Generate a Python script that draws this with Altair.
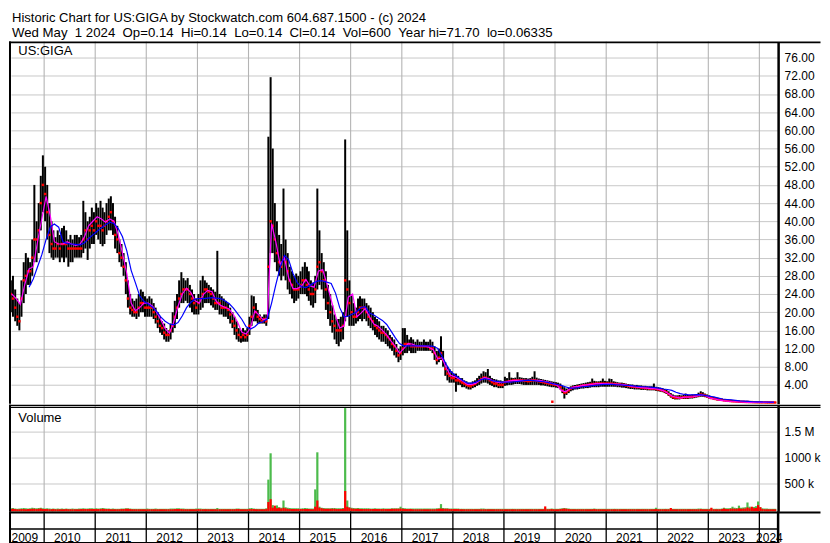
import altair as alt
import pandas as pd

FONT = "Liberation Sans"
NB = "\u00a0"
TITLE_1 = "Historic Chart for US:GIGA by Stockwatch.com 604.687.1500 - (c) 2024"
TITLE_2 = (f"Wed May {NB}1 2024 {NB}Op=0.14 {NB}Hi=0.14 {NB}Lo=0.14 {NB}Cl=0.14 "
           f"{NB}Vol=600 {NB}Year hi=71.70 {NB}lo=0.06335")
SYMBOL = "US:GIGA"
VOL_LABEL = "Volume"

# ---------------- price data: half-monthly high / low / close (May 2009 .. Apr 2024)
HIGH = [
    27, 28, 25, 23, 22, 27, 31, 33, 32, 31, 36, 48, 40, 44, 50, 54.5, 52, 48, 44, 40, 38, 36.5, 38, 37,
    38.5, 39, 38, 36, 37, 36, 37, 37, 36.5, 37, 44.5, 42, 40, 41, 43, 42, 44, 43, 44.5, 43, 42, 44, 45, 45.5,
    44, 41, 39, 36, 35, 33, 31, 27, 24, 23, 22.5, 23, 24, 25, 24.5, 23.5, 23, 23.5, 23, 22, 21, 20, 19, 18,
    17.5, 16.5, 16, 17.5, 20, 22.5, 24, 27, 28.8, 27.5, 27, 27.5, 26, 25, 24, 23, 24, 27, 28, 27, 26.5, 26, 25.5, 25,
    24.5, 33.5, 24, 23.5, 23, 22.5, 22, 21, 20, 19, 18, 16.5, 16, 16.5, 16, 16.5, 19, 23.7, 23.5, 22, 20.5, 19.5, 19, 19.5,
    19.5, 58.6, 71.7, 56, 44, 40, 37, 35, 47.2, 36, 33, 30, 29, 28, 28.5, 28, 29, 30, 31, 30, 29, 27, 26.5, 28,
    47.2, 38, 33, 31, 29, 26, 24, 21.5, 19.5, 18.5, 18.5, 19, 20, 58, 38, 27, 24, 22, 21, 23, 23.5, 23, 23, 22,
    21.5, 21, 20, 19, 18.5, 18, 17, 17, 16.5, 16, 15, 14.5, 14, 13, 12, 12.5, 16.5, 16.5, 15, 14, 14.5, 14, 13.5, 14,
    13.5, 13.5, 14, 13.5, 13.5, 14, 13.5, 12.5, 11.5, 12, 14.7, 11.5, 9, 8, 7.5, 7, 6.5, 6.5, 6, 5.5, 5.5, 5, 4.8, 4.5,
    4.5, 4.8, 5, 5.5, 6, 6.5, 7, 6.8, 7.5, 6, 5.5, 5.3, 5.2, 5, 5, 4.8, 5.8, 5.5, 6.8, 5.6, 5.5, 5.6, 6.8, 5.7,
    5.6, 5.5, 5.5, 5.4, 5.5, 5.8, 7, 5.6, 5.4, 5.3, 5.2, 5.1, 5, 4.9, 4.8, 4.7, 4.6, 4.5, 4.3, 3.8, 3.5, 3.2, 3.4, 3.7,
    3.9, 4, 4.1, 4.2, 4.3, 4.4, 4.5, 4.6, 4.7, 5.4, 4.9, 4.8, 4.8, 4.9, 5.4, 4.9, 4.8, 5.4, 5.3, 4.8, 4.7, 4.6, 4.5, 4.5,
    4.4, 4.3, 4.2, 4.1, 4.1, 4, 4, 3.9, 3.9, 3.8, 3.8, 3.7, 3.7, 3.7, 4.3, 3.6, 3.5, 3.4, 3.3, 3.1, 2.9, 2.6, 2.2, 1.9,
    1.7, 1.7, 1.8, 1.7, 1.8, 2.1, 1.8, 1.8, 1.9, 1.9, 2, 2.3, 2.6, 2.4, 2.1, 1.9, 1.7, 1.5, 1.4, 1.3, 1.2, 1.1, 1, 0.9,
    0.85, 0.8, 0.75, 0.7, 0.65, 0.6, 0.55, 0.5, 0.5, 0.45, 0.5, 0.42, 0.4, 0.38, 0.36, 0.35, 0.33, 0.32, 0.3, 0.3, 0.28, 0.27, 0.26, 0.25,
]
LOW = [
    20, 19, 18, 17, 16, 19, 22, 24, 26, 26, 28, 31, 31, 33, 38, 42, 40, 36, 33, 32, 31.5, 32, 32, 31,
    32, 31, 32, 30, 31, 31, 32, 32, 32, 32, 33, 34, 31.5, 34, 35, 35, 37, 36, 35, 34.5, 35, 37, 38, 38,
    37, 34, 33, 31, 30, 28, 24, 21, 19.5, 19, 19, 18.5, 19, 20, 20, 19, 19, 19, 19, 18.5, 17.5, 16.5, 15.5, 15,
    14, 13.5, 13.5, 14, 15.5, 16.5, 18.5, 21, 22, 22, 22.5, 22, 21, 20, 19.5, 19.5, 19.5, 20.5, 21, 22, 22, 22, 21.5, 21,
    20.5, 20.5, 19.5, 19.5, 19, 19, 18.5, 17.5, 16.5, 15, 14, 13.5, 13.3, 13.5, 13.5, 13.5, 15, 17, 18, 18, 17.5, 17.5, 17.5, 17.5,
    17, 18.5, 33, 33, 31, 29, 28, 27, 28, 27, 25, 24, 23, 22, 22.5, 23, 24, 24, 24, 23.5, 22.5, 21.5, 21, 22,
    25, 26, 25, 23, 20.5, 18.5, 17, 15.5, 14, 13, 12.5, 13.5, 14, 18, 19, 17, 17, 17, 17.5, 18, 18.5, 18, 18.5, 18,
    17, 16.5, 16, 15, 14.5, 14, 13.5, 13.5, 13, 12.5, 12, 11.5, 10.5, 10, 9, 9.5, 10.5, 11, 11, 11.5, 11, 11, 11, 11.5,
    11.5, 11.5, 11.5, 11.5, 11.5, 11.5, 11, 9.5, 8.5, 9, 9.5, 8, 6, 5, 4.5, 4.5, 4.5, 2.5, 4, 4, 3.5, 3.5, 3.2, 3,
    3, 3.3, 3.5, 3.8, 4, 4.3, 4.5, 4.5, 4.3, 4, 3.8, 3.5, 3.5, 3.3, 3.3, 3.3, 3.8, 3.9, 4, 4, 4.1, 4.2, 4.2, 4.2,
    4.1, 4, 4, 4, 4, 4, 4, 4, 4, 3.9, 3.9, 3.8, 3.7, 3.6, 3.5, 3.5, 3.4, 3.3, 3, 2.2, 1, 1.8, 2.2, 2.6,
    2.8, 3, 3, 3.1, 3.2, 3.2, 3.3, 3.3, 3.4, 3.5, 3.5, 3.5, 3.5, 3.6, 3.6, 3.6, 3.6, 3.6, 3.6, 3.6, 3.6, 3.5, 3.5, 3.4,
    3.4, 3.3, 3.2, 3.1, 3.1, 3, 3, 3, 2.9, 2.9, 2.9, 2.8, 2.8, 2.8, 2.8, 2.7, 2.6, 2.5, 2.4, 2.2, 2, 1.6, 1.2, 0.9,
    0.8, 0.8, 0.8, 0.9, 0.9, 0.9, 0.9, 1, 1, 1.1, 1.2, 1.3, 1.4, 1.4, 1.3, 1.2, 1, 0.9, 0.8, 0.7, 0.6, 0.55, 0.5, 0.45,
    0.4, 0.35, 0.3, 0.3, 0.25, 0.22, 0.2, 0.2, 0.18, 0.17, 0.16, 0.15, 0.14, 0.13, 0.12, 0.11, 0.1, 0.09, 0.08, 0.08, 0.07, 0.07, 0.065, 0.065,
]
CLOSE = [
    24, 23, 21, 19, 18, 23, 27, 28, 29, 29, 32, 36, 36, 38, 44, 48, 46, 42, 37, 35, 34, 34, 35, 34,
    35, 35, 35, 34, 34, 34, 34, 34, 34, 34, 36, 38, 36, 38, 39, 38, 40, 39, 39, 38, 39, 40, 41, 42,
    40, 37, 36, 33, 32, 30, 27, 23, 21, 20.5, 20, 20, 21, 22, 22, 21, 21, 21, 21, 20, 19, 18, 17, 16.5,
    15.5, 15, 15, 16, 17, 19, 21, 23, 24, 25, 25, 25, 24, 23, 22, 21, 22, 23, 24, 25, 25, 24.5, 24, 23,
    22, 22, 22, 21, 21, 21, 20.5, 19.5, 18, 17, 16, 15, 14.5, 15, 14.5, 15, 17, 19, 21, 20, 19, 18.5, 18, 18.5,
    18, 30, 40, 39, 36, 33, 31, 30, 32, 31, 29, 27, 26, 25, 25, 25, 26, 27, 27, 26, 25, 24, 24, 25,
    30, 31, 29, 27, 25, 22, 20, 18, 17, 16, 16, 16, 17, 27, 25, 22, 20, 19, 19, 20, 21, 21, 21, 20,
    19, 18.5, 18, 17, 16.5, 16, 15.5, 15.5, 15, 14.5, 14, 13, 12.5, 11.5, 10.5, 11, 12, 13, 13, 13, 12.5, 12.5, 12.5, 12.5,
    12.5, 12.5, 12.5, 12.5, 12.5, 12, 12, 11, 9.5, 10, 11, 9.5, 7.5, 6.5, 6, 5.5, 5.5, 5, 5, 4.8, 4.5, 4.3, 4, 3.8,
    3.7, 4, 4.2, 4.6, 5, 5.3, 5.6, 5.6, 5.3, 5, 4.6, 4.3, 4.3, 4, 4, 4, 4.6, 4.7, 4.8, 4.9, 5, 5, 5, 5,
    5, 4.9, 4.9, 4.8, 4.9, 5, 5, 4.9, 4.8, 4.7, 4.6, 4.5, 4.4, 4.3, 4.2, 4.1, 4, 3.9, 3.5, 2.8, 2.3, 2.4, 2.8, 3.2,
    3.4, 3.5, 3.6, 3.7, 3.8, 3.9, 3.9, 4, 4.1, 4.2, 4.2, 4.3, 4.3, 4.3, 4.3, 4.3, 4.3, 4.3, 4.3, 4.2, 4.2, 4.1, 4.1, 4,
    4, 3.9, 3.8, 3.7, 3.6, 3.6, 3.5, 3.5, 3.4, 3.4, 3.3, 3.3, 3.2, 3.2, 3.2, 3.1, 3, 2.9, 2.8, 2.6, 2.4, 2, 1.6, 1.3,
    1.2, 1.2, 1.2, 1.2, 1.3, 1.3, 1.3, 1.4, 1.4, 1.5, 1.6, 1.7, 1.9, 1.8, 1.7, 1.5, 1.3, 1.1, 1, 0.9, 0.8, 0.75, 0.7, 0.6,
    0.55, 0.5, 0.45, 0.4, 0.38, 0.35, 0.32, 0.3, 0.28, 0.26, 0.25, 0.23, 0.22, 0.2, 0.19, 0.18, 0.17, 0.16, 0.16, 0.15, 0.15, 0.14, 0.14, 0.14,
]
OUTLIER_DATES = ["2019-12-13"]
OUTLIER_CLOSE = [0.3]

# ---------------- moving averages, monthly (May 2009 .. Apr 2024)
MA_SHORT = [
    24, 23, 21.7, 26, 29.5, 30, 35.5, 40.5, 45.5, 41, 35.5, 35, 35, 35.5, 35, 34.7, 35, 36.5, 39, 40,
    41, 40.5, 39.8, 40.5, 40, 37, 33, 28.5, 22, 20.3, 21, 22, 22, 21.3, 20, 18.3, 16.4, 15.4, 17.8, 21.3,
    24, 25.3, 24.3, 22.5, 22, 24, 24.8, 24.5, 22.4, 21.5, 21.1, 20.7, 19.5, 17.8, 15.6, 15.2, 16.5, 20.3, 19.4, 18.3,
    18.6, 39.5, 35.5, 30.5, 32, 27.5, 25.2, 25.2, 25.7, 27.2, 25.8, 25.5, 29, 29.4, 26.3, 22.7, 19.2, 16.5, 17, 23.3,
    24, 19, 19.8, 20.8, 19, 17.4, 16.9, 16, 15, 13.7, 12.5, 11, 12, 13.1, 13, 12.6, 12.6, 12.5, 12.3, 11.7,
    9.7, 10, 7.7, 6.1, 5.8, 5.3, 4.8, 4.1, 4.1, 4.4, 5.1, 5.6, 5.4, 4.9, 4.6, 4.5, 4.7, 4.9, 5, 5,
    5, 5, 5, 5, 5, 4.8, 4.6, 4.3, 4, 2.8, 2.5, 3.1, 3.6, 3.7, 3.9, 4, 4.1, 4.3, 4.3, 4.3,
    4.3, 4.2, 4.2, 4.1, 4, 3.8, 3.6, 3.5, 3.4, 3.3, 3.2, 3.2, 3, 2.7, 2.2, 1.6, 1.3, 1.1, 1.3, 1.3,
    1.4, 1.6, 1.8, 1.6, 1.1, 0.9, 0.7, 0.55, 0.45, 0.35, 0.3, 0.25, 0.2, 0.17, 0.16, 0.15, 0.15, 0.14, 0.14, 0.14,
]
MA_LONG = [
    None, None, None, None, 25.5, 27.3, 30, 32.6, 36, 38.8, 39.4, 38.7, 35.5, 35.1, 35, 34.9, 34.8, 35.2, 36.2, 37,
    37.8, 38.6, 39.2, 39.8, 39.5, 38.4, 36.6, 33.5, 29.2, 26.5, 23.6, 22.4, 21.8, 21.1, 20.2, 18.9, 18, 17.4, 17.2, 17.7,
    19.2, 21, 22.2, 22.9, 23, 23, 23.1, 23.2, 23.1, 23, 22.5, 21.9, 20.9, 19.7, 18.4, 16.8, 16.3, 16.8, 17.6, 17.9,
    18.5, 22, 26, 29.8, 32.5, 31.5, 28.5, 26.5, 25.6, 25.4, 25.9, 26.5, 26.9, 26.9, 26.6, 26.3, 24.2, 21, 19, 19.1,
    19.6, 20.1, 21, 21.2, 19.8, 19.4, 18.8, 18.2, 17.3, 15.9, 14.4, 13.1, 12.6, 12.6, 12.6, 12.6, 12.6, 12.6, 12.6, 12.5,
    12, 10.3, 8.5, 7, 6.2, 5.5, 4.9, 4.4, 4.4, 4.6, 5.1, 5.4, 5.2, 4.9, 4.8, 4.6, 4.6, 4.6, 4.7, 4.8,
    4.9, 5, 5, 4.9, 4.8, 4.7, 4.5, 4.3, 4.1, 3.9, 3.6, 3.3, 3.3, 3.4, 3.6, 3.7, 3.8, 3.9, 4, 4.1,
    4.1, 4.1, 4, 4, 3.9, 3.9, 3.8, 3.7, 3.6, 3.6, 3.5, 3.4, 3.3, 3.1, 3, 2.8, 2.4, 2.1, 1.9, 1.8,
    1.8, 1.85, 1.8, 1.65, 1.5, 1.3, 1.1, 0.9, 0.8, 0.7, 0.6, 0.5, 0.45, 0.4, 0.3, 0.28, 0.25, 0.24, 0.22, 0.2,
]

# ---------------- volume, half-monthly, thousands of shares
VOL_GREEN = [
    30, 35, 25, 20, 25, 30, 35, 30, 25, 30, 40, 35, 30, 35, 40, 30, 25, 30, 25, 20, 25, 20, 25, 20,
    25, 20, 25, 20, 20, 25, 20, 20, 25, 25, 30, 25, 25, 30, 30, 25, 30, 25, 30, 35, 30, 25, 25, 20,
    25, 20, 20, 20, 25, 25, 30, 30, 25, 20, 20, 20, 20, 20, 20, 20, 25, 20, 20, 20, 25, 20, 20, 20,
    20, 20, 20, 25, 25, 25, 30, 30, 25, 25, 20, 20, 20, 20, 20, 25, 25, 25, 20, 20, 20, 20, 20, 20,
    20, 35, 20, 20, 20, 20, 20, 20, 20, 20, 25, 25, 20, 20, 20, 20, 30, 35, 25, 20, 20, 20, 20, 20,
    30, 580, 1085, 90, 60, 85, 50, 40, 179, 50, 40, 35, 30, 30, 30, 30, 25, 30, 35, 30, 25, 25, 25, 392,
    1104, 60, 40, 35, 30, 30, 30, 35, 35, 30, 30, 30, 35, 1953, 179, 50, 40, 35, 30, 35, 30, 30, 30, 30,
    30, 25, 25, 30, 25, 25, 25, 30, 25, 25, 25, 30, 30, 30, 30, 60, 35, 30, 25, 25, 25, 25, 25, 25,
    25, 25, 25, 25, 25, 25, 25, 25, 30, 30, 110, 35, 30, 30, 25, 25, 25, 25, 25, 20, 20, 20, 20, 20,
    20, 20, 20, 20, 20, 25, 25, 20, 20, 20, 20, 20, 20, 20, 20, 20, 20, 20, 20, 20, 20, 20, 20, 20,
    20, 20, 20, 20, 20, 20, 20, 20, 20, 20, 20, 25, 20, 20, 25, 20, 20, 20, 25, 30, 35, 30, 25, 20,
    20, 20, 20, 20, 20, 20, 20, 20, 20, 20, 25, 20, 20, 20, 20, 20, 20, 20, 20, 20, 20, 20, 20, 20,
    20, 20, 20, 20, 20, 20, 20, 20, 20, 20, 20, 20, 20, 20, 20, 40, 20, 20, 20, 20, 20, 20, 25, 20,
    20, 20, 20, 20, 20, 20, 20, 20, 20, 20, 20, 25, 25, 20, 20, 20, 20, 25, 20, 20, 20, 20, 25, 40,
    30, 30, 35, 60, 40, 35, 80, 40, 45, 50, 141, 60, 50, 55, 70, 160, 50, 30, 25, 25, 20, 20, 20, 20,
]
VOL_RED = [
    15, 20, 15, 10, 10, 15, 15, 10, 15, 15, 20, 20, 15, 20, 25, 15, 15, 15, 10, 10, 15, 10, 10, 10,
    10, 10, 15, 10, 10, 10, 10, 10, 10, 15, 15, 15, 15, 15, 15, 15, 15, 15, 15, 20, 15, 15, 15, 10,
    10, 10, 10, 10, 15, 15, 20, 20, 15, 10, 10, 10, 10, 10, 10, 10, 10, 10, 10, 10, 10, 10, 10, 10,
    10, 10, 10, 10, 10, 15, 15, 15, 15, 10, 10, 10, 10, 10, 10, 10, 15, 10, 10, 10, 10, 10, 10, 10,
    10, 10, 10, 10, 10, 10, 10, 10, 10, 10, 15, 15, 10, 10, 10, 10, 15, 15, 15, 10, 10, 10, 10, 10,
    15, 150, 204, 40, 80, 30, 40, 25, 40, 30, 20, 15, 15, 15, 15, 15, 15, 15, 15, 15, 15, 10, 10, 60,
    179, 40, 30, 20, 20, 20, 20, 20, 20, 15, 15, 15, 20, 362, 60, 40, 25, 20, 20, 20, 15, 15, 15, 15,
    15, 15, 15, 15, 15, 15, 15, 15, 15, 15, 15, 20, 20, 20, 20, 25, 20, 15, 15, 15, 15, 10, 10, 10,
    10, 10, 10, 10, 10, 10, 10, 10, 15, 20, 25, 20, 20, 20, 15, 15, 15, 15, 15, 10, 10, 10, 10, 10,
    10, 10, 10, 10, 10, 10, 10, 10, 10, 10, 10, 10, 10, 10, 10, 10, 10, 10, 10, 10, 10, 10, 10, 10,
    10, 10, 10, 10, 10, 10, 10, 10, 10, 10, 10, 66, 10, 10, 15, 10, 10, 10, 15, 20, 25, 20, 15, 10,
    10, 10, 10, 10, 10, 10, 10, 10, 10, 10, 15, 10, 10, 10, 10, 10, 10, 10, 10, 10, 10, 10, 10, 10,
    10, 10, 10, 10, 10, 10, 10, 10, 10, 10, 10, 10, 10, 10, 10, 15, 10, 10, 10, 10, 10, 10, 35, 10,
    10, 10, 10, 10, 10, 10, 10, 10, 10, 10, 10, 10, 15, 10, 10, 10, 10, 40, 10, 10, 10, 10, 15, 25,
    15, 15, 20, 25, 20, 20, 30, 20, 25, 25, 45, 30, 60, 30, 35, 90, 50, 15, 10, 10, 10, 10, 10, 10,
]

PRICE_TICKS = [4, 8, 12, 16, 20, 24, 28, 32, 36, 40, 44, 48, 52, 56, 60, 64, 68, 72, 76]
VOL_TICKS = [500, 1000, 1500]
YEAR_STARTS = [f"{y}-01-01" for y in range(2010, 2025)]
YEAR_LABELS = [str(y) for y in range(2009, 2025)]
YEAR_LABEL_DATES = ["2009-08-16"] + [f"{y}-06-16" for y in range(2010, 2024)] + ["2024-03-13"]

# ---------------- dates
half_dates = []
for k in range(len(HIGH)):
    mm = 4 + k // 2
    half_dates.append(f"{2009 + mm // 12}-{mm % 12 + 1:02d}-{8 if k % 2 == 0 else 23:02d}")
month_dates = []
for m in range(len(MA_SHORT)):
    mm = 4 + m
    month_dates.append(f"{2009 + mm // 12}-{mm % 12 + 1:02d}-15")

n = min(len(HIGH), len(LOW), len(CLOSE))
price_df = pd.DataFrame({"date": half_dates[:n], "high": HIGH[:n], "low": LOW[:n], "close": CLOSE[:n]})
out_df = pd.DataFrame({"date": OUTLIER_DATES, "close": OUTLIER_CLOSE})
mas_df = pd.DataFrame({"date": month_dates, "ma": MA_SHORT})
mal_df = pd.DataFrame({"date": [d for d, v in zip(month_dates, MA_LONG) if v is not None],
                       "ma": [v for v in MA_LONG if v is not None]})
nv = min(len(VOL_GREEN), len(VOL_RED), len(half_dates))
vol_df = pd.DataFrame({"date": half_dates[:nv], "green": VOL_GREEN[:nv], "red": VOL_RED[:nv]})
years_df = pd.DataFrame({"date": YEAR_STARTS})
ylab_df = pd.DataFrame({"date": YEAR_LABEL_DATES, "label": YEAR_LABELS})

# ---------------- layout (pixels) -- whole chart kept within 814 px wide
W = 769.0
HT = 31.5
HP = 363.1
HV = 106.9
HA = 32.0
XR = 811.5
GRID = "#c8c8c8"
VGRID = "#b4b4b4"
ONE = alt.Data(values=[{}])

t0 = pd.Timestamp("2009-05-09").value // 10**6
t1 = pd.Timestamp("2024-05-14").value // 10**6
xs = alt.Scale(domain=[t0, t1], nice=False)
X = alt.X("date:T", scale=xs, axis=None)


def hline(y, x1, x2, w):
    return alt.Chart(ONE).mark_rule(color="black", strokeWidth=w).encode(
        x=alt.value(x1), x2=alt.value(x2), y=alt.value(y))


def vline(x, y1, y2, w):
    return alt.Chart(ONE).mark_rule(color="black", strokeWidth=w).encode(
        x=alt.value(x), y=alt.value(y1), y2=alt.value(y2))


def label(txt, x, y, size=13):
    return alt.Chart(ONE).mark_text(align="left", baseline="alphabetic", font=FONT,
                                    fontSize=size, color="black").encode(
        x=alt.value(x), y=alt.value(y), text=alt.value(txt))


# title panel
title_panel = alt.layer(
    hline(0, -2, XR, 0.01),
    label(TITLE_1, 1, 12.5, 13.1),
    label(TITLE_2, 1, 27.2, 13.25),
).properties(width=W, height=HT)

# price panel
ys = alt.Scale(domain=[-0.15, 79.53], nice=False, zero=False)
yax = alt.Axis(orient="right", values=PRICE_TICKS, format=".2f", grid=True, gridColor=GRID,
               gridWidth=1, ticks=False, tickSize=0, domain=True, domainColor="black",
               domainWidth=2.5, labelFont=FONT, labelFontSize=12, labelColor="black",
               labelPadding=6, title=None, labelOverlap=False, labelFlush=False)
price_panel = alt.layer(
    alt.Chart(years_df).mark_rule(color=VGRID, strokeWidth=1.1).encode(x=X),
    alt.Chart(price_df).mark_rule(color="black", strokeWidth=2.0).encode(
        x=X, y=alt.Y("low:Q", scale=ys, axis=yax), y2="high:Q"),
    alt.Chart(price_df).mark_square(color="#ff0000", size=6, opacity=1).encode(
        x=X, y=alt.Y("close:Q", scale=ys, axis=yax)),
    alt.Chart(out_df).mark_square(color="#ff0000", size=6, opacity=1).encode(
        x=X, y=alt.Y("close:Q", scale=ys, axis=yax)),
    alt.Chart(mas_df).mark_line(color="#ff00ff", strokeWidth=1.2).encode(
        x=X, y=alt.Y("ma:Q", scale=ys, axis=yax)),
    alt.Chart(mal_df).mark_line(color="#0000ff", strokeWidth=1.2).encode(
        x=X, y=alt.Y("ma:Q", scale=ys, axis=yax)),
    label(SYMBOL, 7.4, 13.3),
    hline(0.8, -2, XR, 2),
    vline(-1, 0, HP, 2),
).properties(width=W, height=HP)

# volume panel
vs = alt.Scale(domain=[-28.7, 2018], nice=False, zero=False)
vax = alt.Axis(orient="right", values=VOL_TICKS,
               labelExpr="datum.value == 1500 ? '1.5 M' : datum.value + ' k'",
               grid=True, gridColor=GRID, gridWidth=1, ticks=False, tickSize=0, domain=True,
               domainColor="black", domainWidth=2.5, labelFont=FONT, labelFontSize=12,
               labelColor="black", labelPadding=6, title=None, labelOverlap=False,
               labelFlush=False)
vol_panel = alt.layer(
    alt.Chart(years_df).mark_rule(color=VGRID, strokeWidth=1.1).encode(x=X),
    alt.Chart(vol_df).mark_rule(color="#4cbb4c", strokeWidth=2.2).encode(
        x=X, y=alt.Y("green:Q", scale=vs, axis=vax), y2=alt.value(HV)),
    alt.Chart(vol_df).mark_rule(color="#ff0000", strokeWidth=2.2).encode(
        x=X, y=alt.Y("red:Q", scale=vs, axis=vax), y2=alt.value(HV)),
    label(VOL_LABEL, 7.4, 17.5),
    hline(0.6, -2, XR, 1.3),
    hline(2.6, -2, XR, 1.3),
    vline(-1, 0, HV, 2),
).properties(width=W, height=HV)

# year axis panel
axis_panel = alt.layer(
    alt.Chart(years_df).mark_rule(color="black", strokeWidth=1.3).encode(x=X),
    alt.Chart(ylab_df).mark_text(align="center", baseline="alphabetic", font=FONT,
                                 fontSize=12, color="black").encode(
        x=X, y=alt.value(30.3), text="label:N"),
    hline(1.0, -2, XR, 2),
    hline(17.7, -2, W, 1.5),
    hline(31.4, -2, W + 1.2, 1.5),
    vline(W, 0, HA, 2.5),
    vline(-1, 0, HA, 2),
).properties(width=W, height=HA)

chart = alt.vconcat(
    title_panel, price_panel, vol_panel, axis_panel, spacing=0, bounds="flush"
).resolve_scale(x="shared", y="independent").configure_view(strokeWidth=0).properties(
    padding=0, background="white")

chart.save("out.html", embed_options={"renderer": "svg", "actions": False})
